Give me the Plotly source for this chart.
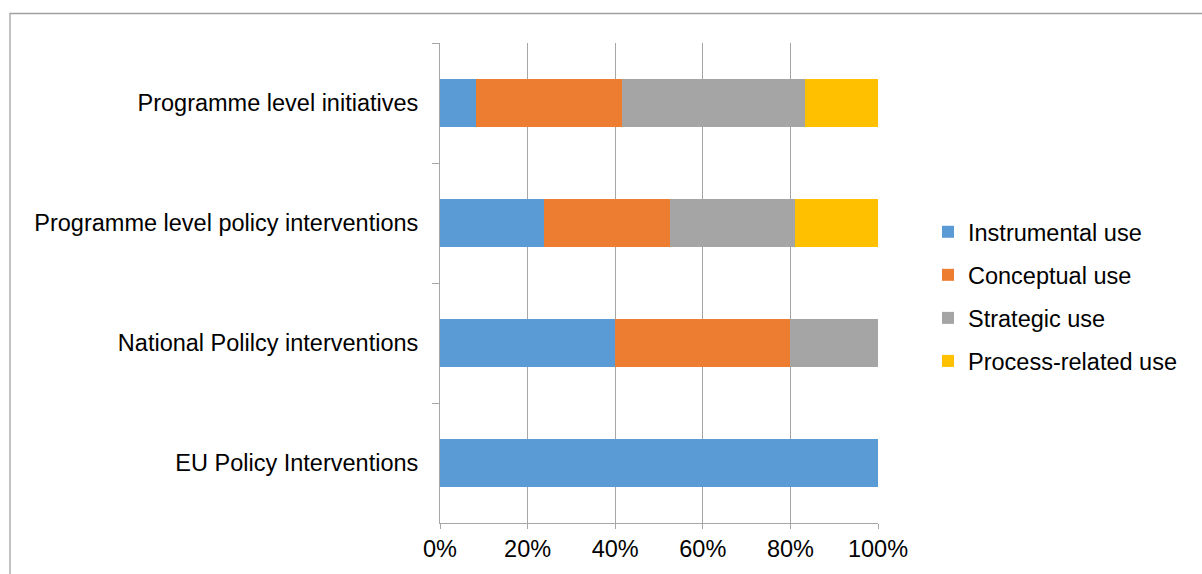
import plotly.graph_objects as go

# Categories, top to bottom
categories = [
    "Programme level initiatives",
    "Programme level policy interventions",
    "National Polilcy interventions",
    "EU Policy Interventions",
]

# Share of each type of use (%)
instrumental = [8.3, 23.8, 40.0, 100.0]
conceptual = [33.3, 28.6, 40.0, 0.0]
strategic = [41.7, 28.6, 20.0, 0.0]
process_related = [16.7, 19.0, 0.0, 0.0]

series_names = ["Instrumental use", "Conceptual use", "Strategic use", "Process-related use"]
series_values = [instrumental, conceptual, strategic, process_related]
series_colors = ["#5B9BD5", "#ED7D31", "#A5A5A5", "#FFC000"]

x_ticks = [0, 20, 40, 60, 80, 100]
x_tick_labels = ["0%", "20%", "40%", "60%", "80%", "100%"]

FONT = "Liberation Sans, Arial, sans-serif"
GRID = "#A6A6A6"

W, H = 1202, 574
ML, MR, MT, MB = 440, 324, 43, 51
pw = W - ML - MR
ph = H - MT - MB

fig = go.Figure()
for name, vals, col in zip(series_names, series_values, series_colors):
    fig.add_trace(go.Bar(
        y=categories,
        x=vals,
        name=name,
        orientation="h",
        marker=dict(color=col, line=dict(width=0)),
        width=0.4,
        legendgroup=name,
        hoverinfo="x+name",
    ))

# outer chart-area frame
def px_to_paper_x(px):
    return (px - ML) / pw

def px_to_paper_y(py):
    return (H - MB - py) / ph

fig.add_shape(
    type="rect", xref="paper", yref="paper",
    x0=px_to_paper_x(10), x1=px_to_paper_x(1260),
    y0=px_to_paper_y(640), y1=px_to_paper_y(13.5),
    line=dict(color="#A0A0A0", width=1.3),
    fillcolor="rgba(0,0,0,0)", layer="below",
)

fig.update_layout(
    width=W, height=H,
    margin=dict(l=ML, r=MR, t=MT, b=MB, pad=0),
    barmode="stack",
    bargap=0.6,
    paper_bgcolor="white",
    plot_bgcolor="white",
    font=dict(family=FONT, size=23.5, color="#000000"),
    showlegend=True,
    legend=dict(
        x=px_to_paper_x(928), y=px_to_paper_y(210),
        xanchor="left", yanchor="top",
        traceorder="grouped",
        tracegroupgap=9.5,
        font=dict(family=FONT, size=23.5, color="#000000"),
        bgcolor="rgba(0,0,0,0)",
        itemwidth=30,
    ),
    xaxis=dict(
        range=[0, 100],
        tickmode="array",
        tickvals=x_ticks,
        ticktext=x_tick_labels,
        showgrid=True, gridcolor=GRID, gridwidth=1,
        showline=True, linecolor=GRID, linewidth=1,
        ticks="outside", ticklen=5, tickcolor=GRID,
        zeroline=False,
        fixedrange=True,
    ),
    yaxis=dict(
        type="category",
        categoryorder="array",
        categoryarray=categories,
        autorange="reversed",
        tickson="boundaries",
        showgrid=False,
        showline=True, linecolor=GRID, linewidth=1,
        ticks="outside", ticklen=7, tickcolor=GRID,
        ticklabelstandoff=16,
        zeroline=False,
        fixedrange=True,
    ),
)

fig.write_html("out.html")
